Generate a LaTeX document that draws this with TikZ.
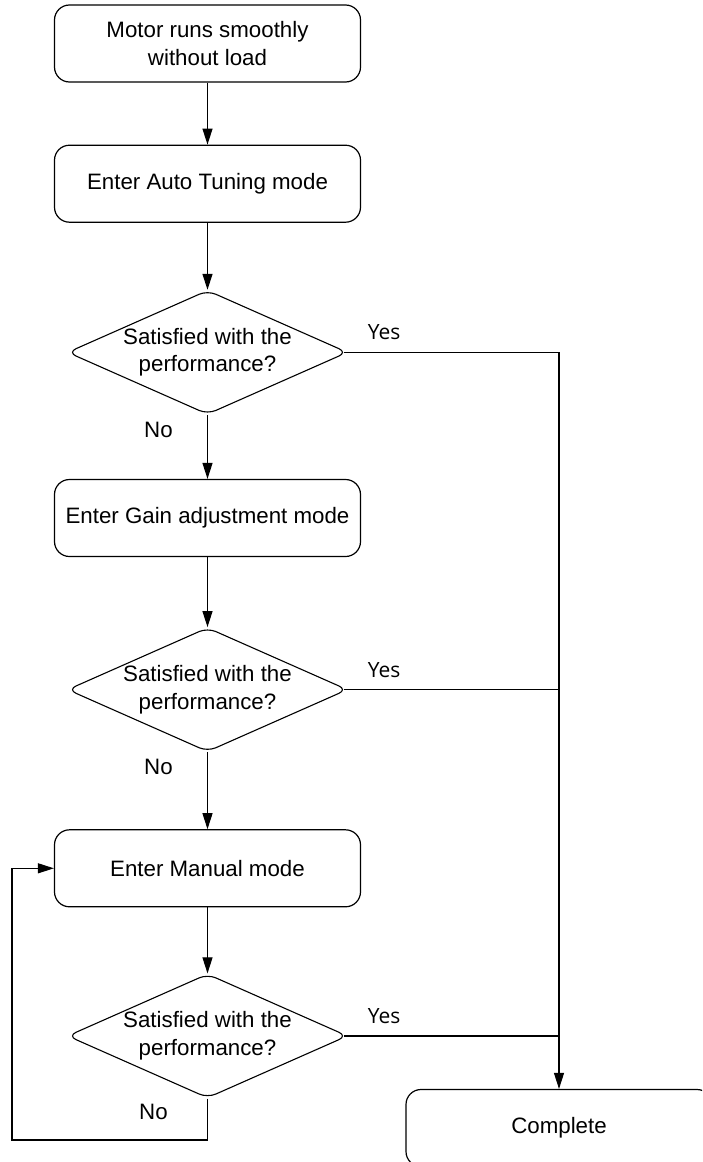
\documentclass[tikz,border=0pt]{standalone}
\usepackage{fontspec}
\setmainfont{Liberation Sans}
\newfontfamily\yesfont{Open Sans}
\usetikzlibrary{arrows.meta, shapes.geometric, positioning, calc}

\begin{document}
\begin{tikzpicture}[
    x=1pt, y=-1pt,
    font=\fontsize{22.3}{27.5}\selectfont,
    box/.style={draw=black, line width=1.2pt, rounded corners=15pt, align=center, inner sep=0pt, minimum width=306pt, minimum height=77pt},
    decision/.style={diamond, draw=black, line width=1.1pt, rounded corners=9pt, align=center, inner sep=0pt, aspect=2.26, minimum width=280pt, minimum height=124pt},
    arrow/.style={-{Triangle[length=16pt, width=10pt]}, line width=1.1pt, draw=black},
    link/.style={line width=1.1pt, draw=black},
    yeslabel/.style={font=\yesfont\fontsize{21}{25}\selectfont},
    nolabel/.style={font=\fontsize{22.3}{25}\selectfont}
]
\path[use as bounding box, clip] (0,0) rectangle (702,1162);

% Start
\node[box] (b1) at (207.5,43.5) {Motor runs smoothly\\without load};

% Step 1: auto tuning
\node[box, below=62pt of b1] (b2) {Enter Auto Tuning mode};
\node[decision, below=67pt of b2] (d1) {Satisfied with the\\performance?};

% Step 2: gain adjustment
\node[box, below=64pt of d1] (b3) {Enter Gain adjustment mode};
\node[decision, below=70pt of b3] (d2) {Satisfied with the\\performance?};

% Step 3: manual mode
\node[box, below=77pt of d2] (b4) {Enter Manual mode};
\node[decision, below=66pt of b4] (d3) {Satisfied with the\\performance?};

% End
\node[box] (done) at (559,1128) {Complete};

% Main flow
\draw[arrow] (b1) -- (b2);
\draw[arrow] (b2) -- (d1);
\draw[arrow] (d1) -- (b3);
\draw[arrow] (b3) -- (d2);
\draw[arrow] (d2) -- (b4);
\draw[arrow] (b4) -- (d3);

% Yes branches
\draw[arrow, shorten <=-4.5pt] (d1.east) -| (done.north);
\draw[link, shorten <=-4.5pt] (d2.east) -- (d2.east -| done.north);
\draw[link, shorten <=-4.5pt] (d3.east) -- (d3.east -| done.north);
\node[yeslabel] at ($(d1.east)+(36,-20)$) {Yes};
\node[yeslabel] at ($(d2.east)+(36,-20)$) {Yes};
\node[yeslabel] at ($(d3.east)+(36,-20)$) {Yes};

% No labels
\node[nolabel] at ($(d1.south)+(-49,15)$) {No};
\node[nolabel] at ($(d2.south)+(-49,15)$) {No};
\node[nolabel] at ($(d3.south)+(-54,13)$) {No};

% Loop back to manual mode
\coordinate (loop) at (12,1140);
\draw[arrow] (d3.south) |- (loop) |- (b4.west);

\end{tikzpicture}
\end{document}
